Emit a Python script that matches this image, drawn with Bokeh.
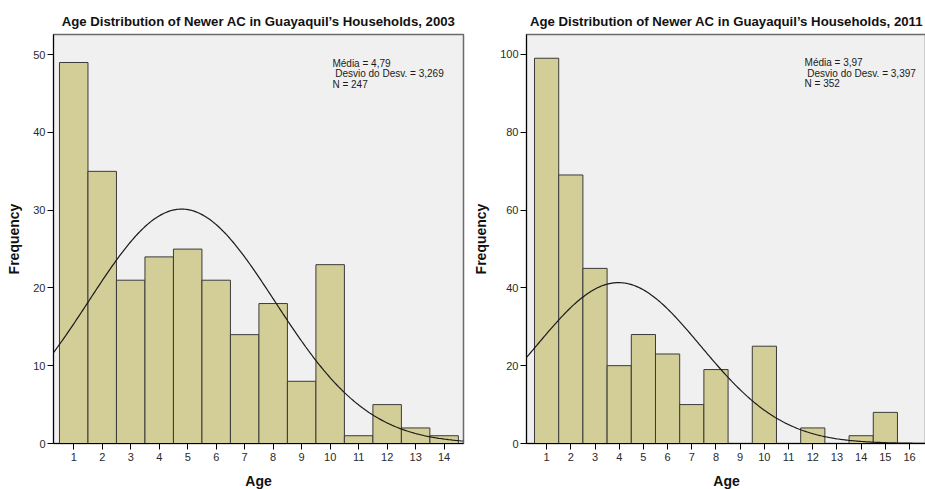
import numpy as np
from bokeh.plotting import figure
from bokeh.layouts import row
from bokeh.models import FixedTicker, Label, Range1d, ColumnDataSource
from bokeh.embed import file_html
from bokeh.resources import INLINE

# ---------------- data ----------------
ages_2003 = list(range(1, 15))
counts_2003 = [49, 35, 21, 24, 25, 21, 14, 18, 8, 23, 1, 5, 2, 1]
ages_2011 = list(range(1, 17))
counts_2011 = [99, 69, 45, 20, 28, 23, 10, 19, 0, 25, 0, 4, 0, 2, 8, 0]

mean_2003, sd_2003, n_2003 = 4.79, 3.269, 247
mean_2011, sd_2011, n_2011 = 3.97, 3.397, 352

xticks_2003 = list(range(1, 15))
xticks_2011 = list(range(1, 17))
yticks_2003 = [0, 10, 20, 30, 40, 50]
yticks_2011 = [0, 20, 40, 60, 80, 100]

title_2003 = "Age Distribution of Newer AC in Guayaquil\u2019s Households, 2003"
title_2011 = "Age Distribution of Newer AC in Guayaquil\u2019s Households, 2011"
stats_2003 = ["M\u00e9dia = 4,79", "\u00a0Desvio do Desv. = 3,269", "N = 247"]
stats_2011 = ["M\u00e9dia = 3,97", "\u00a0Desvio do Desv. = 3,397", "N = 352"]

FONT = "Liberation Sans"
BAR_FILL = "#D3CE97"
BAR_LINE = "#3a3a3a"
PLOT_BG = "#F0F0F0"


def panel(title, ages, counts, mean, sd, n, xticks, yticks, xr, yr,
          stats, stat_xy, border_left, frame_w, border_right):
    p = figure(output_backend="svg", toolbar_location=None,
               frame_width=frame_w, frame_height=409,
               min_border_left=border_left, min_border_right=border_right,
               min_border_top=34, min_border_bottom=46,
               x_range=Range1d(*xr), y_range=Range1d(*yr),
               background_fill_color=PLOT_BG, border_fill_color="white")
    p.title.text = title
    p.title.align = "center"
    p.title.text_font = FONT
    p.title.text_font_size = "13.2px"
    p.title.text_font_style = "bold"
    p.title.text_color = "#111111"
    p.title.standoff = 12

    p.outline_line_color = "#6a6a6a"
    p.outline_line_width = 1.5
    p.grid.visible = False

    src = ColumnDataSource(dict(x=[a for a, c in zip(ages, counts) if c > 0],
                                top=[c for c in counts if c > 0]))
    p.vbar(x="x", top="top", width=1.0, bottom=0, source=src,
           fill_color=BAR_FILL, line_color=BAR_LINE, line_width=1)

    xs = np.linspace(xr[0], xr[1], 300)
    ys = n * 1.0 / (sd * np.sqrt(2 * np.pi)) * np.exp(-0.5 * ((xs - mean) / sd) ** 2)
    p.line(xs, ys, line_color="#1a1a1a", line_width=1.2)

    for ax in (p.xaxis, p.yaxis):
        ax.axis_line_color = "black"
        ax.major_tick_line_color = "black"
        ax.major_tick_out = 6
        ax.major_tick_in = 0
        ax.minor_tick_line_color = None
        ax.major_label_text_font = FONT
        ax.major_label_text_font_size = "11px"
        ax.major_label_text_color = "#2a2a2a"
        ax.axis_label_text_font = FONT
        ax.axis_label_text_font_size = "14px"
        ax.axis_label_text_font_style = "bold"
        ax.axis_label_text_color = "#111111"

    p.xaxis.ticker = FixedTicker(ticks=xticks)
    p.yaxis.ticker = FixedTicker(ticks=yticks)
    p.xaxis.axis_label = "Age"
    p.yaxis.axis_label = "Frequency"
    p.xaxis.major_label_standoff = 3
    p.yaxis.major_label_standoff = 2
    p.xaxis.axis_label_standoff = 9
    p.yaxis.axis_label_standoff = 8

    for i, line in enumerate(stats):
        p.add_layout(Label(x=stat_xy[0], y=stat_xy[1], y_offset=-i * 10.5,
                           text=line, text_font=FONT, text_font_size="10px",
                           text_color="#1a1a1a", text_baseline="top",
                           text_align="left"))
    return p


p1 = panel(title_2003, ages_2003, counts_2003, mean_2003, sd_2003, n_2003,
           xticks_2003, yticks_2003, (0.29, 14.68), (0, 52.6),
           stats_2003, (10.08, 49.6), 53, 410, 7)
p2 = panel(title_2011, ages_2011, counts_2011, mean_2011, sd_2011, n_2011,
           xticks_2011, yticks_2011, (0.169, 16.70), (0, 105.1),
           stats_2011, (11.66, 99.2), 55, 400, 0)

layout = row(p1, p2)
open("out.html", "w").write(file_html(layout, INLINE))
